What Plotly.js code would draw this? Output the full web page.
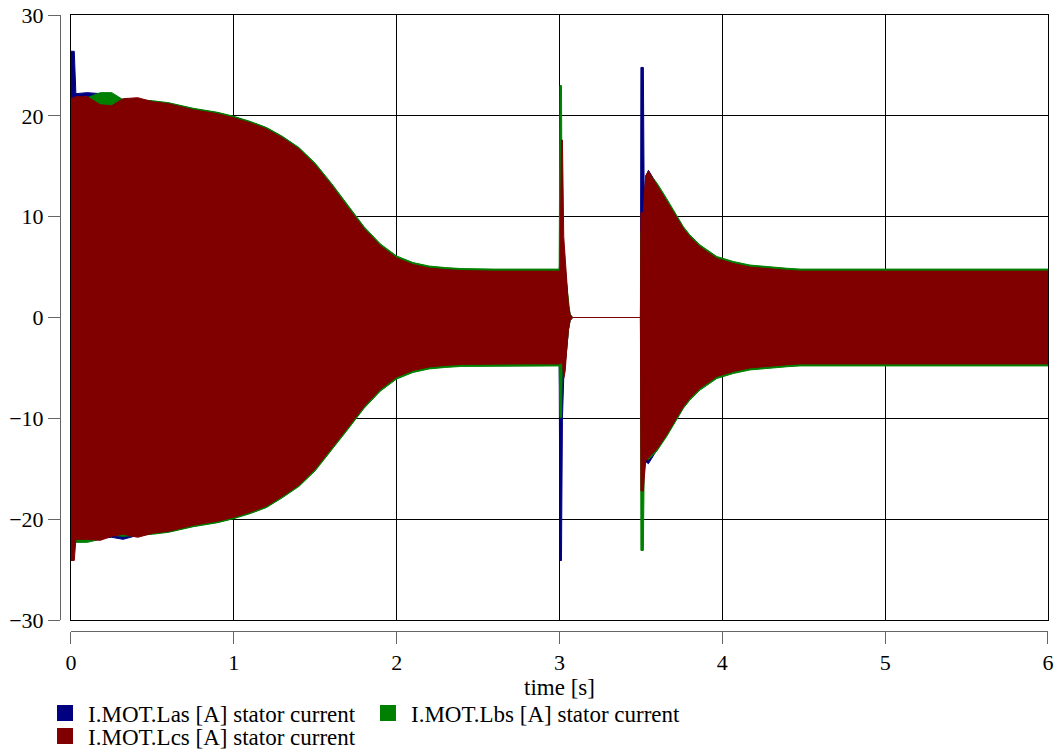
<!DOCTYPE html>
<html>
<head>
<meta charset="utf-8">
<script src="https://cdn.plot.ly/plotly-3.0.1.min.js"></script>
<style>
html,body{margin:0;padding:0;background:#fff;}
#chart{width:1060px;height:755px;}
</style>
</head>
<body>
<div id="chart"></div>
<script>
// time samples of the read-off envelopes [s]
var time = [
  0, 0.02, 0.03, 0.1, 0.18, 0.25, 0.32, 0.41, 0.5, 0.6, 0.75, 0.9, 1.0, 1.1, 1.2, 1.3, 1.4, 1.5, 1.6, 1.7,
  1.8, 1.9, 2.0, 2.1, 2.2, 2.3, 2.4, 2.6, 2.8, 2.998,
  3.003, 3.012, 3.018, 3.026, 3.035, 3.045, 3.055, 3.065, 3.08, 3.3, 3.497,
  3.5, 3.515, 3.52, 3.53, 3.546, 3.6, 3.658, 3.7, 3.761, 3.8, 3.863, 3.966, 4.068, 4.17, 4.273, 4.4, 4.477, 5.0, 5.5, 6.0
];
// I.MOT.Las [A] envelope (upper / lower)
var lasUpper = [
  26.4, 26.4, 22.2, 22.3, 22.2, 21.9, 21.6, 21.6, 21.4, 21.25, 20.7, 20.3, 19.9, 19.4, 18.8, 17.9, 16.8, 15.2, 13.2, 11.0,
  8.9, 7.2, 6.0, 5.35, 5.0, 4.85, 4.75, 4.7, 4.7, 4.7,
  6.0, 6.2, 6.0, 5.0, 5.0, 3.0, 1.2, 0.3, 0, 0, 0,
  24.8, 24.8, 12.0, 14.0, 14.6, 13.2, 11.7, 10.5, 8.9, 8.1, 7.1, 5.95, 5.45, 5.1, 4.93, 4.78, 4.7, 4.7, 4.7, 4.7
];
var lasLower = [
  -21.5, -21.8, -21.8, -21.8, -21.9, -21.8, -22.0, -21.6, -21.4, -21.25, -20.7, -20.3, -19.9, -19.4, -18.8, -17.8, -16.7, -15.1, -13.1, -11.0,
  -8.9, -7.2, -6.0, -5.35, -5.0, -4.85, -4.75, -4.7, -4.7, -4.7,
  -24.1, -24.1, -10.0, -6.0, -5.0, -3.0, -1.2, -0.3, 0, 0, 0,
  -10.0, -10.0, -12.0, -14.3, -14.5, -13.1, -11.7, -10.6, -8.9, -8.1, -7.1, -5.95, -5.45, -5.1, -4.93, -4.78, -4.7, -4.7, -4.7, -4.7
];
// I.MOT.Lbs [A] envelope (upper / lower)
var lbsUpper = [
  21.5, 21.6, 21.8, 21.8, 22.3, 22.3, 21.6, 21.6, 21.5, 21.3, 20.75, 20.35, 19.95, 19.45, 18.85, 17.95, 16.85, 15.3, 13.3, 11.1,
  9.0, 7.3, 6.1, 5.45, 5.1, 4.95, 4.85, 4.8, 4.8, 4.8,
  23.0, 23.0, 4.0, 3.0, 4.5, 3.0, 1.2, 0.3, 0, 0, 0,
  8.5, 8.5, 9.0, 13.9, 14.4, 13.3, 11.8, 10.6, 9.0, 8.2, 7.2, 6.05, 5.55, 5.2, 5.03, 4.88, 4.8, 4.8, 4.8, 4.8
];
var lbsLower = [
  -21.6, -22.3, -22.3, -22.3, -22.0, -21.6, -21.7, -21.6, -21.5, -21.3, -20.75, -20.35, -19.95, -19.45, -18.85, -17.85, -16.75, -15.2, -13.2, -11.1,
  -9.0, -7.3, -6.1, -5.45, -5.1, -4.95, -4.85, -4.8, -4.8, -4.8,
  -9.9, -9.9, -3.5, -5.0, -4.5, -3.0, -1.2, -0.3, 0, 0, 0,
  -23.1, -23.1, -15.0, -14.0, -14.1, -13.2, -11.8, -10.7, -9.0, -8.2, -7.2, -6.05, -5.55, -5.2, -5.03, -4.88, -4.8, -4.8, -4.8, -4.8
];
// I.MOT.Lcs [A] envelope (upper / lower)
var lcsUpper = [
  21.7, 21.8, 21.9, 21.9, 21.1, 21.0, 21.7, 21.8, 21.4, 21.2, 20.6, 20.2, 19.8, 19.3, 18.7, 17.8, 16.7, 15.1, 13.1, 10.9,
  8.8, 7.1, 5.9, 5.25, 4.9, 4.75, 4.65, 4.6, 4.6, 4.6,
  4.6, 17.6, 17.6, 8.0, 5.5, 3.0, 1.2, 0.3, 0, 0, 0,
  10.4, 10.4, 12.0, 14.1, 14.5, 13.1, 11.6, 10.4, 8.8, 8.0, 7.0, 5.85, 5.35, 5.0, 4.83, 4.68, 4.6, 4.6, 4.6, 4.6
];
var lcsLower = [
  -24.1, -24.1, -22.0, -22.0, -22.1, -21.7, -21.5, -21.8, -21.4, -21.2, -20.6, -20.2, -19.8, -19.3, -18.7, -17.7, -16.6, -15.0, -13.0, -10.9,
  -8.8, -7.1, -5.9, -5.25, -4.9, -4.75, -4.65, -4.6, -4.6, -4.6,
  -4.6, -4.5, -4.5, -6.0, -5.3, -3.0, -1.2, -0.3, 0, 0, 0,
  -17.2, -17.2, -16.0, -14.2, -14.0, -13.0, -11.6, -10.5, -8.8, -8.0, -7.0, -5.85, -5.35, -5.0, -4.83, -4.68, -4.6, -4.6, -4.6, -4.6
];
var seriesNames = ['I.MOT.Las [A] stator current', 'I.MOT.Lbs [A] stator current', 'I.MOT.Lcs [A] stator current'];
var seriesColors = ['#000080', '#008000', '#800000'];
var xTicks = [0, 1, 2, 3, 4, 5, 6];
var yTicks = [-30, -20, -10, 0, 10, 20, 30];

var FONT = 'Liberation Serif';
var envelopes = [[lasUpper, lasLower], [lbsUpper, lbsLower], [lcsUpper, lcsLower]];
var tRev = time.slice().reverse();
var traces = [];
envelopes.forEach(function (env, i) {
  traces.push({
    type: 'scatter', mode: 'lines',
    x: time.concat(tRev),
    y: env[0].concat(env[1].slice().reverse()),
    fill: 'toself', fillcolor: seriesColors[i],
    line: {color: seriesColors[i], width: 1},
    showlegend: false, hoverinfo: 'skip'
  });
});
var legendIds = ['legend', 'legend2', 'legend3'];
seriesNames.forEach(function (nm, i) {
  traces.push({
    type: 'scatter', mode: 'markers', x: [null], y: [null], name: nm,
    marker: {symbol: 'square', size: 18, color: seriesColors[i]},
    legend: legendIds[i], showlegend: true, hoverinfo: 'skip'
  });
});
// carrier for the offset axes
traces.push({type: 'scatter', mode: 'markers', x: [null], y: [null], xaxis: 'x2', yaxis: 'y2', showlegend: false, hoverinfo: 'skip'});

function legendCfg(x, y) {
  return {x: x, y: y, xanchor: 'left', yanchor: 'middle', orientation: 'h',
    font: {family: FONT, size: 23}, bgcolor: 'rgba(0,0,0,0)',
    borderwidth: 0, itemwidth: 36};
}

var layout = {
  width: 1060, height: 755,
  margin: {l: 60, r: 12, t: 15, b: 124, autoexpand: false},
  paper_bgcolor: '#fff', plot_bgcolor: '#fff',
  font: {family: FONT, size: 22, color: '#000'},
  xaxis: {domain: [0.01113, 1], range: [0, 6], tickvals: xTicks, showticklabels: false, ticks: '',
    showgrid: true, gridcolor: '#000', gridwidth: 1, zeroline: false,
    showline: true, mirror: true, linecolor: '#000', linewidth: 1, fixedrange: true},
  yaxis: {domain: [0.01786, 1], range: [-30, 30], tickvals: yTicks, showticklabels: false, ticks: '',
    showgrid: true, gridcolor: '#000', gridwidth: 1, zeroline: false,
    showline: true, mirror: true, linecolor: '#000', linewidth: 1, fixedrange: true},
  xaxis2: {overlaying: 'x', anchor: 'free', position: 0, side: 'bottom', range: [0, 6], tickvals: xTicks,
    ticks: 'outside', ticklen: 12, tickcolor: '#666', tickwidth: 1, showline: true, linecolor: '#666', linewidth: 1,
    showgrid: false, zeroline: false, tickfont: {family: FONT, size: 22},
    title: {text: 'time [s]', font: {family: FONT, size: 23}, standoff: 2}, fixedrange: true},
  yaxis2: {overlaying: 'y', anchor: 'free', position: 0, side: 'left', range: [-30, 30], tickvals: yTicks,
    ticktext: yTicks.map(function (v) { return v < 0 ? '\u2212' + Math.abs(v) : String(v); }),
    ticks: 'outside', ticklen: 12, tickcolor: '#666', tickwidth: 1, showline: true, linecolor: '#666', linewidth: 1,
    showgrid: false, zeroline: false, tickfont: {family: FONT, size: 22}, fixedrange: true},
  legend: legendCfg(-0.0182, -0.1331),
  legend2: legendCfg(0.3087, -0.1331),
  legend3: legendCfg(-0.0182, -0.1705),
  showlegend: true
};
function forceSerif() {
  var nodes = document.querySelectorAll('#chart text');
  for (var k = 0; k < nodes.length; k++) {
    nodes[k].style.setProperty('font-family', '"Liberation Serif"', 'important');
    nodes[k].setAttribute('font-family', 'Liberation Serif');
  }
}
var gd = document.getElementById('chart');
Plotly.newPlot(gd, traces, layout, {displayModeBar: false}).then(function () {
  forceSerif();
  gd.on('plotly_afterplot', forceSerif);
});
</script>
</body>
</html>
